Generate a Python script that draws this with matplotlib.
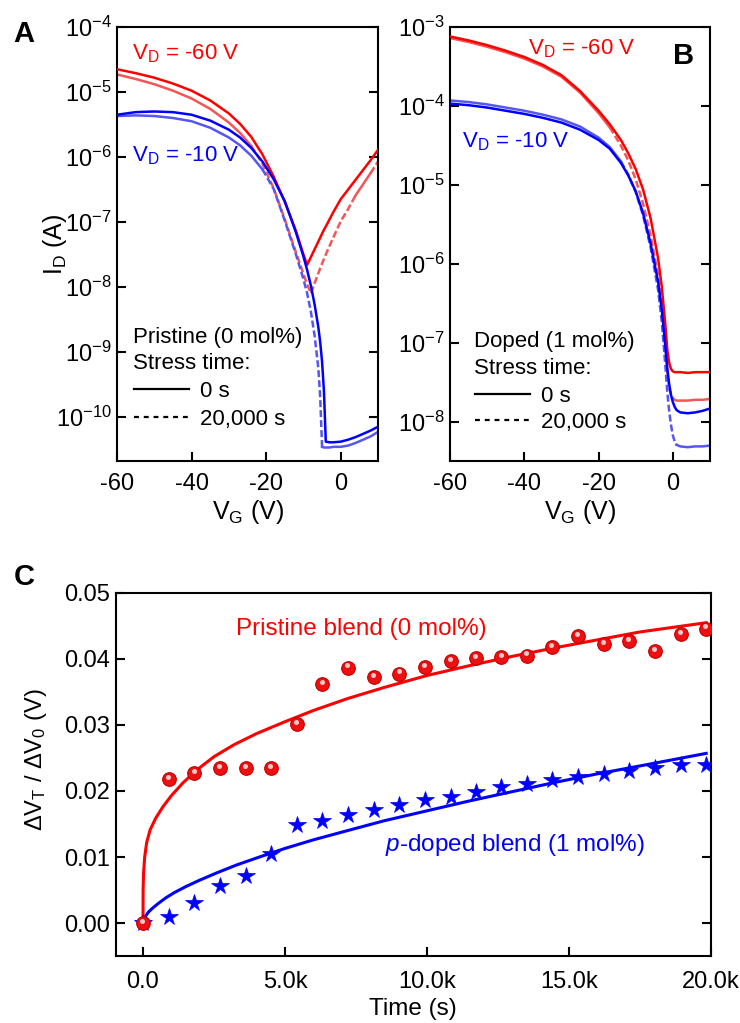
import numpy as np
import matplotlib
matplotlib.use("Agg")
import matplotlib.pyplot as plt
from matplotlib.ticker import LogFormatterSciNotation, NullLocator, FuncFormatter, FixedLocator
from matplotlib.transforms import ScaledTranslation

plt.rcParams.update({
    "font.family": ["Liberation Sans", "DejaVu Sans"],
    "mathtext.fontset": "custom",
    "mathtext.rm": "Liberation Sans",
    "mathtext.it": "Liberation Sans:italic",
    "mathtext.bf": "Liberation Sans:bold",
    "axes.unicode_minus": False,
    "axes.linewidth": 1.5,
})

# ---------------- Panel A: pristine blend transfer curves ----------------
vg_a = [-60, -55, -50, -45, -40, -35, -30, -27, -24, -21, -18, -15, -12, -10, -9,
        -8, -7, -6, -5.5, -5, -4.5, -4, -3, -2, 0, 2, 4, 6, 8, 10]
# log10 of drain current (A)
a_vd60_0s = [-4.65, -4.71, -4.78, -4.87, -4.98, -5.13, -5.33, -5.49, -5.69, -5.96,
             -6.30, -6.69, -7.14, -7.50, -7.66, -7.54, -7.42, -7.30, -7.24, -7.18,
             -7.12, -7.07, -6.96, -6.85, -6.65, -6.50, -6.35, -6.20, -6.05, -5.89]
a_vd60_20ks = [-4.73, -4.80, -4.88, -4.98, -5.10, -5.26, -5.47, -5.63, -5.83, -6.10,
               -6.48, -6.96, -7.47, -7.80, -7.96, -8.10, -7.94, -7.79, -7.71, -7.64,
               -7.57, -7.50, -7.37, -7.24, -6.99, -6.80, -6.59, -6.42, -6.25, -6.07]
a_vd10_0s = [-5.35, -5.31, -5.30, -5.31, -5.35, -5.44, -5.58, -5.70, -5.86, -6.07,
             -6.34, -6.68, -7.16, -7.53, -7.74, -7.98, -8.27, -8.62, -8.85, -9.15,
             -9.60, -10.38, -10.39, -10.39, -10.38, -10.35, -10.31, -10.26, -10.21, -10.15]
a_vd10_20ks = [-5.37, -5.36, -5.37, -5.40, -5.45, -5.55, -5.70, -5.82, -5.98, -6.19,
               -6.49, -6.98, -7.50, -7.88, -8.10, -8.38, -8.75, -9.25, -9.70, -10.46,
               -10.47, -10.47, -10.47, -10.46, -10.46, -10.44, -10.40, -10.35, -10.30, -10.23]
a_decades = [1e-10, 1e-9, 1e-8, 1e-7, 1e-6, 1e-5, 1e-4]

# ---------------- Panel B: doped blend transfer curves ----------------
vg_b = [-60, -55, -50, -45, -40, -35, -30, -25, -20, -17, -14, -12, -10, -8, -6,
        -4, -3, -2, -1.5, -1, -0.5, 0, 0.5, 1, 2, 4, 6, 8, 10]
b_vd60_0s = [-3.12, -3.17, -3.23, -3.30, -3.38, -3.48, -3.61, -3.81, -4.06, -4.23,
             -4.43, -4.60, -4.80, -5.06, -5.42, -5.92, -6.28, -6.78, -7.08, -7.25,
             -7.33, -7.36, -7.37, -7.37, -7.37, -7.38, -7.37, -7.37, -7.37]
b_vd60_20ks = [-3.14, -3.19, -3.25, -3.32, -3.40, -3.50, -3.63, -3.83, -4.09, -4.27,
               -4.50, -4.69, -4.93, -5.24, -5.64, -6.13, -6.50, -7.05, -7.35, -7.55,
               -7.66, -7.70, -7.72, -7.73, -7.73, -7.73, -7.72, -7.72, -7.71]
b_vd10_0s = [-3.97, -3.99, -4.02, -4.06, -4.10, -4.15, -4.21, -4.30, -4.43, -4.54,
             -4.72, -4.88, -5.08, -5.36, -5.74, -6.22, -6.57, -7.05, -7.32, -7.52,
             -7.66, -7.75, -7.81, -7.85, -7.88, -7.89, -7.88, -7.86, -7.83]
b_vd10_20ks = [-3.93, -3.95, -3.98, -4.02, -4.06, -4.11, -4.17, -4.26, -4.40, -4.52,
               -4.70, -4.87, -5.09, -5.39, -5.79, -6.32, -6.72, -7.30, -7.62, -7.86,
               -8.04, -8.17, -8.25, -8.29, -8.31, -8.32, -8.31, -8.31, -8.30]
b_decades = [1e-8, 1e-7, 1e-6, 1e-5, 1e-4, 1e-3]
vg_ticks = [-60, -40, -20, 0]

# ---------------- Panel C: threshold-voltage shift vs stress time ----------------
stress_t = [0, 920, 1810, 2710, 3610, 4510, 5420, 6320, 7220, 8130, 9030, 9930,
            10840, 11720, 12620, 13510, 14410, 15320, 16220, 17120, 18020, 18930, 19830]
dvt_pristine = [0.0, 0.0218, 0.0227, 0.0235, 0.0235, 0.0235, 0.0301, 0.0362, 0.0387,
                0.0372, 0.0378, 0.0388, 0.0397, 0.0401, 0.0403, 0.0405, 0.0418, 0.0435,
                0.0422, 0.0427, 0.0412, 0.0438, 0.0446]
dvt_doped = [0.0, 0.0009, 0.0031, 0.0056, 0.0071, 0.0105, 0.0149, 0.0155, 0.0164,
             0.0171, 0.0179, 0.0186, 0.0191, 0.0199, 0.0206, 0.0210, 0.0216, 0.0221,
             0.0226, 0.0231, 0.0235, 0.0239, 0.0240]
fit_pristine_t = [0, 5, 20, 60, 130, 250, 450, 700, 1000, 1400, 1900, 2500, 3200, 4000,
                  5000, 6000, 7200, 8500, 10000, 11500, 13000, 14500, 16000, 17500, 19830]
fit_pristine_v = [0.0, 0.0050, 0.0075, 0.0100, 0.0122, 0.0141, 0.0159, 0.0176, 0.0193,
                  0.0212, 0.0232, 0.0252, 0.0270, 0.0287, 0.0305, 0.0322, 0.0340, 0.0357,
                  0.0375, 0.0390, 0.0404, 0.0417, 0.0429, 0.0441, 0.0455]
fit_doped_t = [0, 30, 100, 200, 350, 550, 800, 1100, 1500, 2000, 2600, 3300, 4100, 5000,
               6000, 7200, 8500, 10000, 11500, 13000, 14500, 16000, 17500, 19830]
fit_doped_v = [0.0, 0.0005, 0.0011, 0.0017, 0.0023, 0.0030, 0.0038, 0.0046, 0.0055,
               0.0065, 0.0076, 0.0088, 0.0100, 0.0113, 0.0126, 0.0140, 0.0155, 0.0170,
               0.0185, 0.0199, 0.0213, 0.0226, 0.0238, 0.0257]
time_ticks = [0, 5000, 10000, 15000, 20000]
shift_ticks = [0.0, 0.01, 0.02, 0.03, 0.04, 0.05]

RED, BLUE = "#ff0000", "#0000ff"
RED_LIGHT, BLUE_LIGHT = "#f25656", "#5656f2"
LW = 1.8
W, H = 740, 1023

fig = plt.figure(figsize=(W / 100, H / 100), dpi=100)


def px(x, y):
    """Pixel position (from top-left) to figure fraction."""
    return x / W, 1 - y / H


def add_axes(left, top, right, bottom):
    return fig.add_axes([left / W, 1 - bottom / H, (right - left) / W, (bottom - top) / H])


def style_axes(ax, xpad):
    ax.tick_params(axis="both", which="major", direction="in", length=6.5, width=1.5,
                   labelsize=17, left=True, right=True, top=False, bottom=True)
    ax.tick_params(axis="x", pad=xpad)
    ax.tick_params(axis="y", pad=4)


def setup_log_axes(ax, ylim, decades):
    ax.set_yscale("log")
    ax.set_xlim(-60, 10)
    ax.set_ylim(*ylim)
    ax.yaxis.set_major_locator(FixedLocator(decades))
    ax.yaxis.set_major_formatter(LogFormatterSciNotation())
    ax.yaxis.set_minor_locator(NullLocator())
    ax.set_xticks(vg_ticks)
    style_axes(ax, 8.5)


def draw_transfer(ax, vg, logi, color, stressed):
    vg = np.asarray(vg, dtype=float)
    cur = 10.0 ** np.asarray(logi, dtype=float)
    if not stressed:
        ax.plot(vg, cur, color=color, lw=LW, zorder=3, solid_joinstyle="round")
        return
    # stressed curves: dashed where the curve is steep, solid where it is flat
    pts = ax.transData.transform(np.column_stack([vg, cur]))
    d = np.diff(pts, axis=0)
    steep = np.abs(d[:, 1]) > 1.5 * np.abs(d[:, 0])
    start = 0
    n = len(steep)
    for i in range(1, n + 1):
        if i == n or steep[i] != steep[start]:
            sl = slice(start, i + 1)
            ls = (0, (2.8, 1.2)) if steep[start] else "-"
            ax.plot(vg[sl], cur[sl], color=color, lw=LW, ls=ls, zorder=2,
                    solid_joinstyle="round")
            start = i


def legend_block(x0, title, y_title, y_stress, y0, y20):
    kw = dict(transform=fig.transFigure, fontsize=16, va="baseline", ha="left")
    fig.text(*px(x0, y_title), title, **kw)
    fig.text(*px(x0, y_stress), "Stress time:", **kw)
    fig.text(*px(x0 + 67, y0), "0 s", **kw)
    fig.text(*px(x0 + 67, y20), "20,000 s", **kw)
    xa, ya = px(x0 + 1, y0 - 8)
    xb, _ = px(x0 + 56, y0 - 8)
    fig.add_artist(plt.Line2D([xa, xb], [ya, ya], color="black", lw=1.6,
                              transform=fig.transFigure))
    xa, ya = px(x0 + 1, y20 - 8)
    xb, _ = px(x0 + 56, y20 - 8)
    fig.add_artist(plt.Line2D([xa, xb], [ya, ya], color="black", lw=1.6,
                              ls=(0, (2.2, 2.2)), transform=fig.transFigure))


# ---------- Panel A ----------
axA = add_axes(117, 27, 378, 461)
setup_log_axes(axA, (2.1e-11, 1e-4), a_decades)
draw_transfer(axA, vg_a, a_vd60_20ks, RED_LIGHT, True)
draw_transfer(axA, vg_a, a_vd10_20ks, BLUE_LIGHT, True)
draw_transfer(axA, vg_a, a_vd60_0s, RED, False)
draw_transfer(axA, vg_a, a_vd10_0s, BLUE, False)
fig.text(*px(132, 59), r"V$_\mathrm{D}$ = -60 V", color=RED, fontsize=16, va="baseline")
fig.text(*px(132, 161), r"V$_\mathrm{D}$ = -10 V", color=BLUE, fontsize=16, va="baseline")
legend_block(133, "Pristine (0 mol%)", 343, 369, 397, 425)
fig.text(*px(248, 512), r"V$_\mathrm{G}$ (V)", fontsize=18, ha="center", va="center")
fig.text(*px(55, 244), r"I$_\mathrm{D}$ (A)", fontsize=18, ha="center", va="center",
         rotation=90)
fig.text(*px(24, 34), "A", fontsize=21, fontweight="bold", ha="center", va="center")

# ---------- Panel B ----------
axB = add_axes(450, 27, 710, 461)
setup_log_axes(axB, (3.2e-9, 1e-3), b_decades)
draw_transfer(axB, vg_b, b_vd60_20ks, RED_LIGHT, True)
draw_transfer(axB, vg_b, b_vd10_20ks, BLUE_LIGHT, True)
draw_transfer(axB, vg_b, b_vd60_0s, RED, False)
draw_transfer(axB, vg_b, b_vd10_0s, BLUE, False)
fig.text(*px(528, 54), r"V$_\mathrm{D}$ = -60 V", color=RED, fontsize=16, va="baseline")
fig.text(*px(462, 147), r"V$_\mathrm{D}$ = -10 V", color=BLUE, fontsize=16, va="baseline")
legend_block(474, "Doped (1 mol%)", 347, 374, 402, 428)
fig.text(*px(580, 512), r"V$_\mathrm{G}$ (V)", fontsize=18, ha="center", va="center")
fig.text(*px(684, 56), "B", fontsize=21, fontweight="bold", ha="center", va="center")

# ---------- Panel C ----------
axC = add_axes(116, 593, 711, 956)
axC.set_xlim(-950, 20000)
axC.set_ylim(-0.005, 0.05)
axC.xaxis.set_major_locator(FixedLocator(time_ticks))
axC.xaxis.set_major_formatter(FuncFormatter(
    lambda v, p: "0.0" if v == 0 else f"{v / 1000:.1f}k"))
axC.yaxis.set_major_locator(FixedLocator(shift_ticks))
axC.yaxis.set_major_formatter(FuncFormatter(lambda v, p: f"{v:.2f}"))
style_axes(axC, 11)

axC.plot(fit_doped_t, fit_doped_v, color=BLUE, lw=2.2, zorder=2,
         solid_joinstyle="round")
axC.plot(fit_pristine_t, fit_pristine_v, color=RED, lw=2.2, zorder=2,
         solid_joinstyle="round")
axC.plot(stress_t, dvt_doped, ls="none", marker="*", ms=13, mfc=BLUE, mec=BLUE,
         mew=0.5, zorder=3)
axC.plot(stress_t, dvt_pristine, ls="none", marker="o", ms=9.8, mfc="#ee1010",
         mec="#c00000", mew=0.8, zorder=4)
shine = axC.transData + ScaledTranslation(-0.6 / 72, 1.6 / 72, fig.dpi_scale_trans)
axC.plot(stress_t, dvt_pristine, ls="none", marker="o", ms=3.6, mfc="#ffc8c8",
         mec="none", transform=shine, zorder=5)

fig.text(*px(236, 635), "Pristine blend (0 mol%)", color=RED, fontsize=17.5,
         va="baseline")
fig.text(*px(385, 851), r"$\it{p}$-doped blend (1 mol%)", color=BLUE, fontsize=17.5,
         va="baseline")
fig.text(*px(413, 1009), "Time (s)", fontsize=17.5, ha="center", va="center")
fig.text(*px(36, 760), r"ΔV$_\mathrm{T}$ / ΔV$_\mathrm{0}$ (V)", fontsize=17,
         ha="center", va="center", rotation=90)
fig.text(*px(24, 577), "C", fontsize=21, fontweight="bold", ha="center", va="center")

fig.savefig("out.png", dpi=100)
